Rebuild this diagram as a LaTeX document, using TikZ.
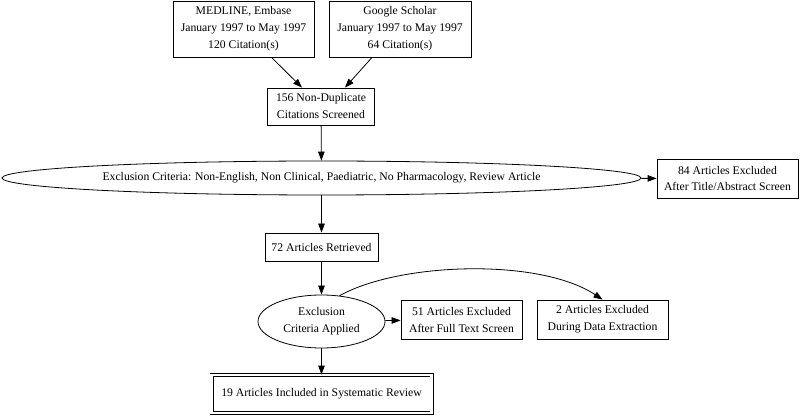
\documentclass[tikz,border=0pt]{standalone}
\usepackage{fontspec}
\setmainfont{Liberation Serif}
\usetikzlibrary{shapes.geometric,arrows.meta}
\begin{document}
\begin{tikzpicture}[x=1pt,y=-1pt,
  every node/.style={font=\fontsize{11.7}{17}\selectfont, align=center, inner sep=0pt},
  box/.style={draw, line width=0.8pt, rectangle},
  oval/.style={draw, line width=0.8pt, ellipse},
  arr/.style={line width=0.8pt, -{Triangle[length=9pt,width=6.5pt]}}]
\useasboundingbox (0,0) rectangle (800,419);
\node[box, minimum width=141, minimum height=56] (med) at (243.5,29) {MEDLINE, Embase\\January 1997 to May 1997\\120 Citation(s)};
\node[box, minimum width=142, minimum height=56] (goo) at (400,29) {Google Scholar\\January 1997 to May 1997\\64 Citation(s)};
\node[box, minimum width=107, minimum height=37] (s156) at (321,106.5) {156 Non-Duplicate\\Citations Screened};
\node[oval, minimum width=639, minimum height=34] (ex1) at (321.5,178) {Exclusion Criteria: Non-English, Non Clinical, Paediatric, No Pharmacology, Review Article};
\node[box, minimum width=141, minimum height=39] (ex84) at (727.5,178.5) {84 Articles Excluded\\After Title/Abstract Screen};
\node[box, minimum width=113, minimum height=28] (r72) at (321.5,247) {72 Articles Retrieved};
\node[oval, minimum width=127, minimum height=53] (ex2) at (321.5,321.5) {Exclusion\\Criteria Applied};
\node[box, minimum width=121, minimum height=39] (ex51) at (461.5,319.5) {51 Articles Excluded\\After Full Text Screen};
\node[box, minimum width=131, minimum height=39] (ex2b) at (602.5,319.5) {2 Articles Excluded\\During Data Extraction};
\node[box, double, double distance=2.4pt, minimum width=220, minimum height=38] (fin) at (321.5,394) {19 Articles Included in Systematic Review};
\draw[arr] ([xshift=28pt]med.south) -- ([xshift=-19pt]s156.north);
\draw[arr] ([xshift=-28pt]goo.south) -- ([xshift=24pt]s156.north);
\draw[arr] (s156) -- (ex1);
\draw[arr] (ex1) -- (ex84);
\draw[arr] (ex1) -- (r72);
\draw[arr] (r72) -- (ex2);
\draw[arr] (ex2) -- (ex51);
\draw[arr] (ex2) -- (fin);
\draw[arr] (ex2.55) .. controls (400,262) and (540,258) .. (ex2b.north);
\end{tikzpicture}
\end{document}
